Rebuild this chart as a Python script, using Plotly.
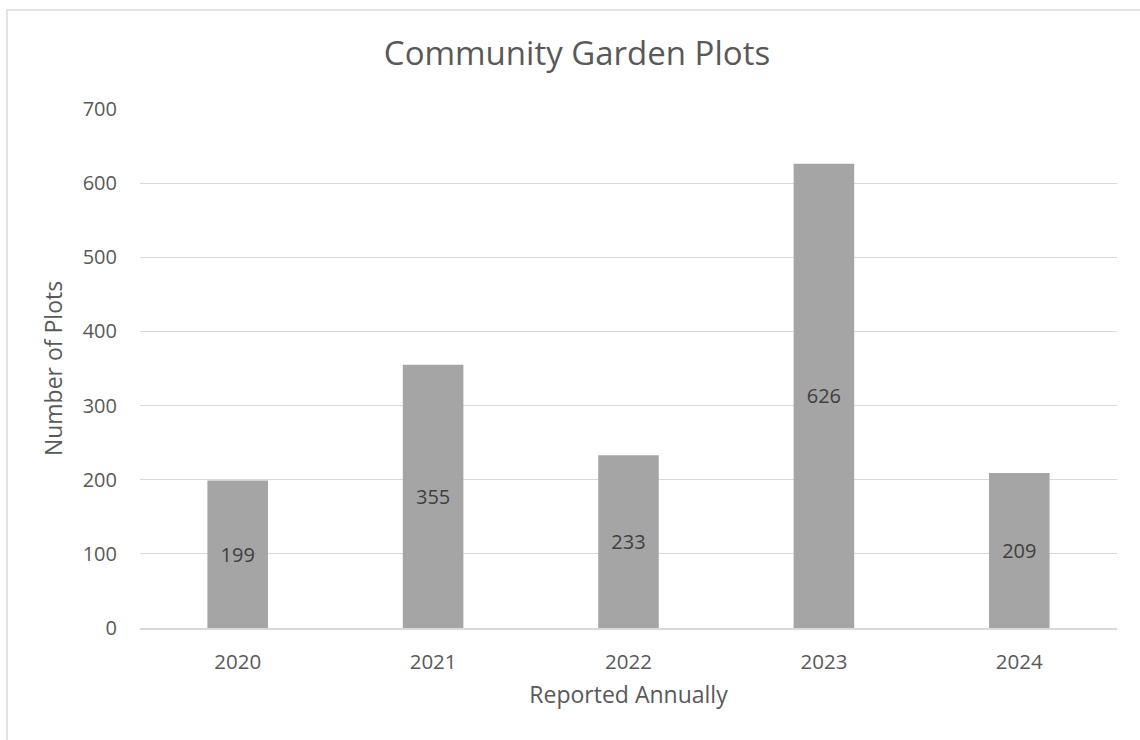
import plotly.graph_objects as go

years = ["2020", "2021", "2022", "2023", "2024"]
plots = [199, 355, 233, 626, 209]

FONT = "'Open Sans', sans-serif"
TEXT = "#595959"

W, H = 1140, 740
ML, MR, MT, MB = 140, 23, 109, 112
pw, ph = W - ML - MR, H - MT - MB

fig = go.Figure(
    go.Bar(
        x=years,
        y=plots,
        marker=dict(color="#a5a5a5", line=dict(width=0)),
        width=0.31,
        text=[str(v) for v in plots],
        textposition="inside",
        insidetextanchor="middle",
        textangle=0,
        textfont=dict(family=FONT, size=20, color="#404040"),
        hoverinfo="skip",
    )
)

# outer chart frame (left and top edges visible)
fig.add_shape(
    type="rect", xref="paper", yref="paper",
    x0=(7 - ML) / pw, x1=(W + 20 - ML) / pw,
    y0=-(H + 20 - MT - ph) / ph, y1=(H - MB - 10) / ph,
    line=dict(color="#d9d9d9", width=1.5),
    fillcolor="rgba(0,0,0,0)", layer="below",
)

fig.update_layout(
    width=W, height=H,
    margin=dict(l=ML, r=MR, t=MT, b=MB),
    paper_bgcolor="white", plot_bgcolor="white",
    showlegend=False,
    title=dict(
        text="Community Garden Plots",
        x=577 / W, xanchor="center",
        y=1 - 53 / H, yanchor="middle",
        font=dict(family=FONT, size=33, color=TEXT),
    ),
    bargap=0.69,
    xaxis=dict(
        showgrid=False, zeroline=False,
        showline=True, linecolor="#d9d9d9", linewidth=1.5,
        ticks="", tickfont=dict(family=FONT, size=20.5, color=TEXT),
        ticklabelstandoff=15,
        title=dict(text="Reported Annually", font=dict(family=FONT, size=23, color=TEXT), standoff=13),
    ),
    yaxis=dict(
        range=[0, 700], dtick=100,
        showgrid=True, gridcolor="#d9d9d9", gridwidth=1.3,
        zeroline=False, showline=False,
        ticks="", tickfont=dict(family=FONT, size=20, color=TEXT),
        ticklabelstandoff=22,
        title=dict(text="Number of Plots", font=dict(family=FONT, size=23, color=TEXT), standoff=13),
    ),
)

fig.write_html("out.html")
